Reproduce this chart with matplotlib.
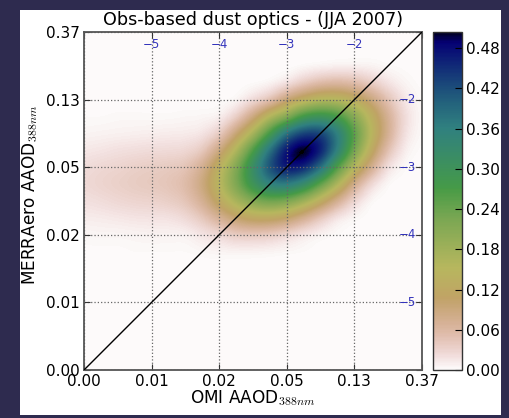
import numpy as np
import matplotlib
matplotlib.use('Agg')
import matplotlib.pyplot as plt
from matplotlib.patches import Rectangle

plt.rcParams['mathtext.fontset'] = 'cm'
plt.rcParams['font.family'] = ['DejaVu Sans']

# ---------------- data ----------------
title = 'Obs-based dust optics - (JJA 2007)'
xlabel = r'OMI AAOD$_{388nm}$'
ylabel = r'MERRAero AAOD$_{388nm}$'

# axis positions are ln(AAOD); labels as shown on the chart
tick_pos = [-6, -5, -4, -3, -2, -1]
tick_labels = ['0.00', '0.01', '0.02', '0.05', '0.13', '0.37']
inner_pos = [-5, -4, -3, -2]
inner_labels = ['\u22125', '\u22124', '\u22123', '\u22122']
cbar_ticks = [0.00, 0.06, 0.12, 0.18, 0.24, 0.30, 0.36, 0.42, 0.48]
cbar_max = 0.504

# density grid: columns ln(OMI) = -6 ... -1 step 0.25, rows ln(MERRAero) = -6 (first) ... -1 (last)
grid_ln = [-6.0 + 0.25 * k for k in range(21)]
z = [0.0] * 21
density = [
    z, z, z, z, z, z, z,                                                    # y=-6.0 .. -4.5
    [.001, .001, .001, .002, .002, .002, .002, .004, .006, .007, .007, .006, .004, .002, 0, 0, 0, 0, 0, 0, 0],   # -4.25
    [.004, .005, .005, .006, .007, .007, .008, .016, .026, .038, .041, .038, .028, .016, .007, .002, 0, 0, 0, 0, 0],  # -4.0
    [.011, .012, .014, .016, .017, .018, .025, .042, .070, .100, .119, .121, .106, .076, .043, .017, .005, 0, 0, 0, 0],  # -3.75
    [.019, .022, .026, .029, .031, .035, .045, .072, .120, .169, .212, .233, .222, .183, .129, .074, .029, .005, 0, 0, 0],  # -3.5
    [.025, .029, .033, .037, .040, .044, .055, .088, .147, .218, .294, .351, .363, .325, .249, .163, .080, .027, .004, 0, 0],  # -3.25
    [.022, .026, .029, .033, .036, .039, .046, .074, .135, .214, .315, .411, .465, .454, .381, .263, .158, .077, .021, .003, 0],  # -3.0
    [.014, .016, .019, .021, .023, .024, .027, .042, .088, .162, .264, .377, .469, .502, .458, .353, .229, .125, .050, .011, .001],  # -2.75
    [.006, .007, .008, .009, .010, .011, .012, .017, .039, .095, .173, .275, .376, .429, .426, .357, .252, .150, .072, .020, .003],  # -2.5
    [.002, .002, .003, .003, .003, .003, .004, .005, .010, .036, .088, .157, .215, .279, .298, .272, .208, .135, .070, .023, .004],  # -2.25
    [0, 0, 0, 0, 0, 0, 0, 0, .001, .006, .025, .051, .095, .133, .157, .155, .129, .090, .047, .015, .003],  # -2.0
    [0, 0, 0, 0, 0, 0, 0, 0, 0, 0, .002, .007, .020, .040, .056, .061, .054, .037, .018, .006, .001],  # -1.75
    [0, 0, 0, 0, 0, 0, 0, 0, 0, 0, 0, 0, 0, .004, .007, .009, .009, .007, .003, .001, 0],  # -1.5
    z,                                                                       # -1.25
    z,                                                                       # -1.0
]

# ---------------- figure ----------------
W, H = 509, 418
fig = plt.figure(figsize=(W / 100, H / 100), dpi=100)
fig.patch.set_facecolor('#2e2b4f')
fig.patches.append(Rectangle((20 / W, 1 - 415 / H), 481 / W, 405 / H,
                             transform=fig.transFigure, facecolor='white',
                             edgecolor='none', zorder=-10))

ax = fig.add_axes([84 / W, 1 - 370 / H, 338 / W, 338 / H])
cax = fig.add_axes([433 / W, 1 - 370 / H, 29 / W, 338 / H])

arr = np.array(density)
step = grid_ln[1] - grid_ln[0]
ext = [grid_ln[0] - step / 2, grid_ln[-1] + step / 2,
       grid_ln[0] - step / 2, grid_ln[-1] + step / 2]
im = ax.imshow(arr, origin='lower', extent=ext, cmap='gist_earth_r',
               vmin=0, vmax=cbar_max, interpolation='catrom',
               interpolation_stage='data', aspect='auto')

ax.set_xlim(tick_pos[0], tick_pos[-1])
ax.set_ylim(tick_pos[0], tick_pos[-1])
ax.plot([tick_pos[0], tick_pos[-1]], [tick_pos[0], tick_pos[-1]],
        color='black', lw=1.0, zorder=3)

ax.set_xticks(tick_pos)
ax.set_xticklabels(tick_labels)
ax.set_yticks(tick_pos)
ax.set_yticklabels(tick_labels)
ax.tick_params(axis='both', direction='in', length=4, width=0.8,
               labelsize=11, pad=3, top=True, right=True, color='#333333')
ax.grid(True, color='#666666', linestyle=':', linewidth=0.9)
for s in ax.spines.values():
    s.set_color('#555555')
    s.set_linewidth(1.3)

inner_color = '#3333bb'
for p, lab in zip(inner_pos, inner_labels):
    ax.text(p, 1 - 12 / 338, lab, transform=ax.get_xaxis_transform(),
            ha='center', va='center', fontsize=8.5, color=inner_color)
    ax.text((416 - 84) / 338, p, lab, transform=ax.get_yaxis_transform(),
            ha='right', va='center', fontsize=8.5, color=inner_color)

ax.text(0.5, 1 + 12 / 338, title, transform=ax.transAxes, ha='center',
        va='center', fontsize=12.7)
fig.text(253 / W, 1 - 403 / H, xlabel, ha='center', va='baseline', fontsize=12.2)
fig.text(30 / W, 1 - 195 / H, ylabel, ha='center', va='center',
         rotation=90, fontsize=12.2)

cb = fig.colorbar(im, cax=cax, ticks=cbar_ticks, format='%.2f')
cb.ax.tick_params(direction='in', length=5, width=0.8, labelsize=11, pad=3)
cb.outline.set_edgecolor('#333333')
cb.outline.set_linewidth(1.0)

fig.savefig('out.png', dpi=100, facecolor=fig.get_facecolor())
